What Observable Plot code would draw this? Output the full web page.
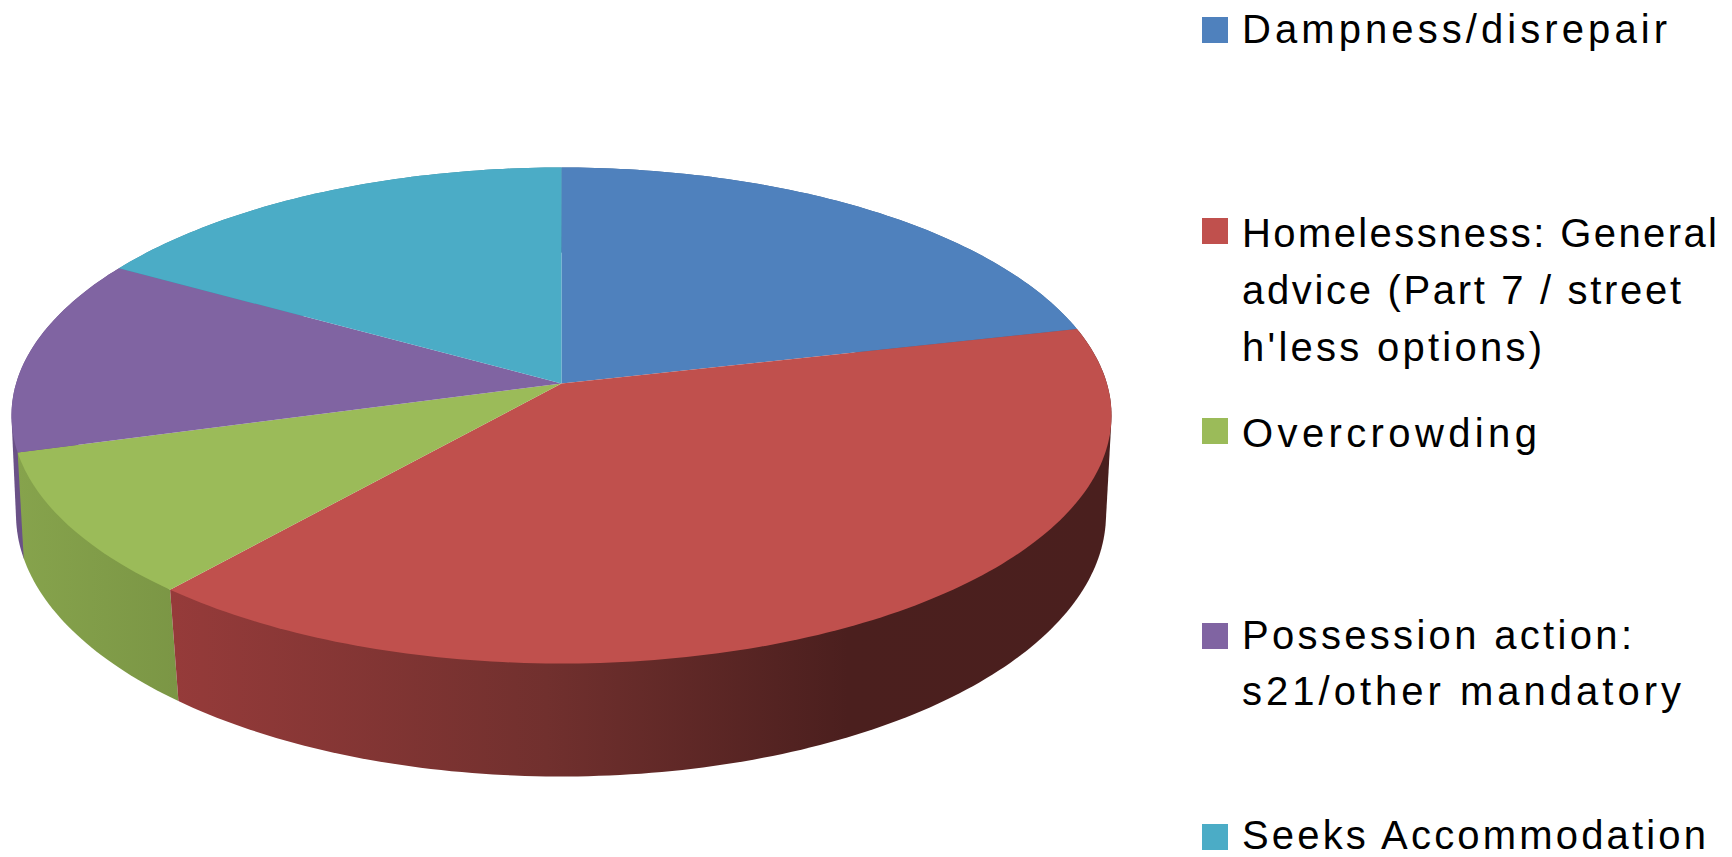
<!DOCTYPE html>
<html>
<head>
<meta charset="utf-8">
<script src="https://cdn.jsdelivr.net/npm/d3@7"></script>
<script src="https://cdn.jsdelivr.net/npm/@observablehq/plot@0.6"></script>
<style>
html,body{margin:0;padding:0;background:#fff}
svg{display:block}
</style>
</head>
<body>
<div id="chart"></div>
<script>
// Data
const categories = ["Dampness/disrepair", "Homelessness: General advice (Part 7 / street h'less options)", "Overcrowding", "Possession action: s21/other mandatory", "Seeks Accommodation"];
const shares = [21.3, 39.9, 9.4, 12.8, 16.6];
const colors = ["#4F81BD", "#C0504D", "#9BBB59", "#8064A2", "#4BACC6"];
const legendLines = [
  ["Dampness/disrepair"],
  ["Homelessness: General", "advice (Part 7 / street", "h'less options)"],
  ["Overcrowding"],
  ["Possession action:", "s21/other mandatory"],
  ["Seeks Accommodation"]
];

// Layout of the drawing
const W = 1732, H = 857;
const topDisc = {cx: 561, cy: 415, a: 550, b: 248, k: 0.129};
const baseDisc = {cx: 560.5, cy: 514, a: 545, b: 262, k: 0.11};
const swatchTops = [17, 218, 418, 623, 824];
const lineBaselines = [[42], [246, 303, 360], [446], [648, 704], [848]];
const lineWidths = [[425], [475, 439, 300], [295], [390, 439], [464]];
const textX = 1241.5, swatchX = 1202, swatchSize = 26;

// Perspective projection of a point on the disc rim
function rim(d, deg) {
  const t = deg * Math.PI / 180, s = Math.sin(t), c = Math.cos(t);
  const q = 1 + d.k * c, r = Math.sqrt(1 - d.k * d.k);
  return {x: d.cx + d.a * r * s / q, y: (d.cy - d.b * d.k) - d.b * r * r * c / q};
}
const total = d3.sum(shares);
const cumulative = d3.cumsum(shares);
const spans = categories.map((name, i) => ({
  name,
  from: (i ? cumulative[i - 1] : 0) / total * 360,
  to: cumulative[i] / total * 360
}));
const sweep = ({from, to}) => {
  const n = Math.ceil(to - from);
  return d3.range(n + 1).map(j => from + (to - from) * j / n);
};
const faces = spans.flatMap(sp => {
  const hub = {x: topDisc.cx, y: topDisc.cy - topDisc.b * topDisc.k};
  return [hub, ...sweep(sp).map(a => rim(topDisc, a)), hub].map(p => ({...p, name: sp.name}));
});
// The rim of one slice: the convex outline of its top and bottom arcs
const wall = i => {
  const angles = sweep(spans[i]);
  const pts = [...angles.map(a => rim(topDisc, a)), ...angles.map(a => rim(baseDisc, a))];
  return d3.polygonHull(pts.map(p => [p.x, p.y])).map(([x, y]) => ({x, y}));
};

const legendText = legendLines.flatMap((lines, i) =>
  lines.map((line, j) => ({line, y: lineBaselines[i][j], w: lineWidths[i][j]})));
const swatches = categories.map((name, i) => ({name, y: swatchTops[i]}));

const plot = Plot.plot({
  width: W, height: H,
  margin: 0,
  x: {type: "linear", domain: [0, W], range: [0, W], axis: null},
  y: {type: "linear", domain: [0, H], range: [0, H], axis: null},
  color: {type: "ordinal", domain: categories, range: colors},
  style: {background: "#fff"},
  marks: [
    Plot.line(wall(4), {x: "x", y: "y", fill: "#3c8aa0", stroke: "none"}),
    Plot.line(wall(0), {x: "x", y: "y", fill: "#3f6797", stroke: "none"}),
    Plot.line(wall(3), {x: "x", y: "y", fill: "#6a5187", stroke: "none"}),
    Plot.line(wall(2), {x: "x", y: "y", fill: "url(#wall-green)", stroke: "none"}),
    Plot.line(wall(1), {x: "x", y: "y", fill: "url(#wall-red)", stroke: "none"}),
    Plot.line(faces, {x: "x", y: "y", z: "name", fill: "name", stroke: "none"}),
    Plot.rect(swatches, {
      x1: () => swatchX, x2: () => swatchX + swatchSize,
      y1: "y", y2: d => d.y + swatchSize, fill: "name"
    }),
    Plot.text(legendText, {
      x: () => textX, y: "y", text: "line",
      textAnchor: "start", lineAnchor: "bottom",
      fontSize: 40, fontFamily: "Liberation Sans", fill: "#000"
    })
  ]
});

// Gradients shading the rim, and exact line lengths of the legend text
const svg = d3.select(plot);
const defs = svg.insert("defs", ":first-child");
const gradient = (id, stops) => {
  const g = defs.append("linearGradient").attr("id", id).attr("x1", 0).attr("x2", 1).attr("y1", 0).attr("y2", 0);
  stops.forEach(([o, c]) => g.append("stop").attr("offset", o).attr("stop-color", c));
};
gradient("wall-red", [[0, "#963b3a"], [0.4, "#71302e"], [0.72, "#4b1f1e"], [1, "#4a1f1e"]]);
gradient("wall-green", [[0, "#86a34c"], [1, "#7b9645"]]);
svg.selectAll("text").each(function (_, i) {
  this.setAttribute("textLength", legendText[i].w);
  this.setAttribute("lengthAdjust", "spacing");
});
document.getElementById("chart").append(plot);
</script>
</body>
</html>
